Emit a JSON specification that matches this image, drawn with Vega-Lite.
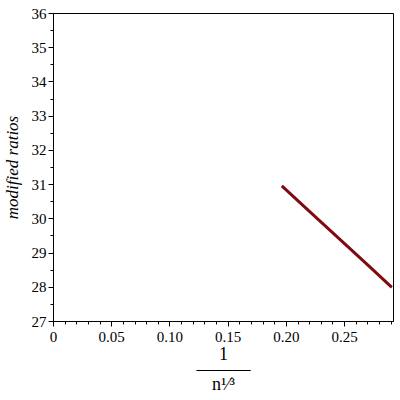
{
  "$schema": "https://vega.github.io/schema/vega-lite/v6.json",
  "autosize": {"type": "none"},
  "padding": {"left": 53, "top": 13, "right": 7, "bottom": 79},
  "width": 340,
  "height": 308,
  "config": {"view": {"stroke": "black", "strokeWidth": 1}, "font": "Liberation Serif"},
  "data": {"values": [
    {"x": 0.1965, "r": 30.95},
    {"x": 0.22, "r": 30.21},
    {"x": 0.245, "r": 29.43},
    {"x": 0.27, "r": 28.65},
    {"x": 0.291, "r": 27.98}
  ]},
  "mark": {"type": "line", "color": "#7f0a10", "strokeWidth": 3},
  "encoding": {
    "x": {
      "field": "x", "type": "quantitative",
      "scale": {"domain": [0, 0.292], "nice": false, "zero": false},
      "axis": {
        "values": [0,0.01,0.02,0.03,0.04,0.05,0.06,0.07,0.08,0.09,0.1,0.11,0.12,0.13,0.14,0.15,0.16,0.17,0.18,0.19,0.2,0.21,0.22,0.23,0.24,0.25,0.26,0.27,0.28,0.29],
        "labelExpr": "abs(datum.value*20 - round(datum.value*20)) < 1e-6 ? (datum.value == 0 ? '0' : format(datum.value, '.2f')) : ''",
        "tickSize": {"condition": {"test": "abs(datum.value*20 - round(datum.value*20)) < 1e-6", "value": 5}, "value": 3},
        "tickColor": "black", "domainColor": "black", "labelColor": "black",
        "labelFont": "Liberation Serif", "titleFont": "Liberation Serif",
        "labelFontSize": 15, "labelPadding": 3, "labelFlush": false,
        "grid": false,
        "title": ["1", "———", "n¹⁄³"],
        "titleFontSize": 18, "titleFontWeight": "normal", "titleColor": "black",
        "titleLineHeight": 15, "titlePadding": 1
      }
    },
    "y": {
      "field": "r", "type": "quantitative",
      "scale": {"domain": [27, 36], "nice": false, "zero": false},
      "axis": {
        "values": [27,27.5,28,28.5,29,29.5,30,30.5,31,31.5,32,32.5,33,33.5,34,34.5,35,35.5,36],
        "labelExpr": "datum.value == round(datum.value) ? format(datum.value, 'd') : ''",
        "tickSize": {"condition": {"test": "datum.value == round(datum.value)", "value": 5}, "value": 3},
        "tickColor": "black", "domainColor": "black", "labelColor": "black",
        "labelFont": "Liberation Serif", "titleFont": "Liberation Serif",
        "labelFontSize": 15, "labelPadding": 2, "labelFlush": false,
        "grid": false,
        "title": "modified ratios",
        "titleFontSize": 17, "titleFontStyle": "italic", "titleFontWeight": "normal", "titleColor": "black",
        "titlePadding": 10
      }
    }
  }
}
